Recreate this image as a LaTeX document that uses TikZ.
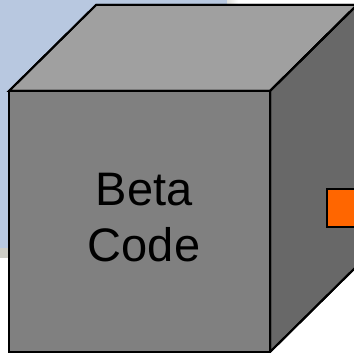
\documentclass[tikz,border=0pt]{standalone}
\usepackage{fontspec}
\setmainfont{Liberation Sans}
\definecolor{bgblue}{RGB}{184,200,224}
\definecolor{stripgray}{RGB}{205,205,198}
\definecolor{frontgray}{RGB}{128,128,128}
\definecolor{topgray}{RGB}{160,160,160}
\definecolor{sidegray}{RGB}{104,104,104}
\definecolor{boxorange}{RGB}{255,102,0}
\begin{document}
\begin{tikzpicture}[x=1pt,y=1pt,
  face/.style={draw=black,line width=2pt,line join=miter},
  lbl/.style={inner sep=0pt,align=center,font=\fontsize{47}{56}\selectfont}]
\useasboundingbox (0,0) rectangle (354,353);
% background window
\fill[white] (0,0) rectangle (354,353);
\fill[bgblue] (0,105) rectangle (227,353);
\fill[stripgray] (0,95) rectangle (227,105);
\shade[left color=stripgray!60, right color=white] (227,105) rectangle (238,353);
% cube faces
\coordinate (ftl) at (9,262);
\coordinate (ftr) at (270,262);
\coordinate (fbl) at (9,1);
\coordinate (fbr) at (270,1);
\coordinate (btl) at (96,348);
\coordinate (btr) at (357,348);
\coordinate (bbr) at (357,87);
\fill[face,fill=topgray] (ftl) -- (btl) -- (btr) -- (ftr) -- cycle;
\fill[face,fill=sidegray] (ftr) -- (btr) -- (bbr) -- (fbr) -- cycle;
\fill[face,fill=frontgray] (fbl) rectangle (ftr);
\draw[face] (ftl) -- (btl) -- (btr) -- (ftr) -- cycle;
\draw[face] (ftr) -- (btr) -- (bbr) -- (fbr) -- cycle;
\draw[face] (fbl) rectangle (ftr);
% orange square
\node[draw=black,line width=2pt,fill=boxorange,minimum width=40pt,minimum height=38pt,inner sep=0pt,anchor=south west] (sq) at (326,125) {};
% label
\node[lbl] (label) at (144,135.7) {Beta\\Code};
\end{tikzpicture}
\end{document}
